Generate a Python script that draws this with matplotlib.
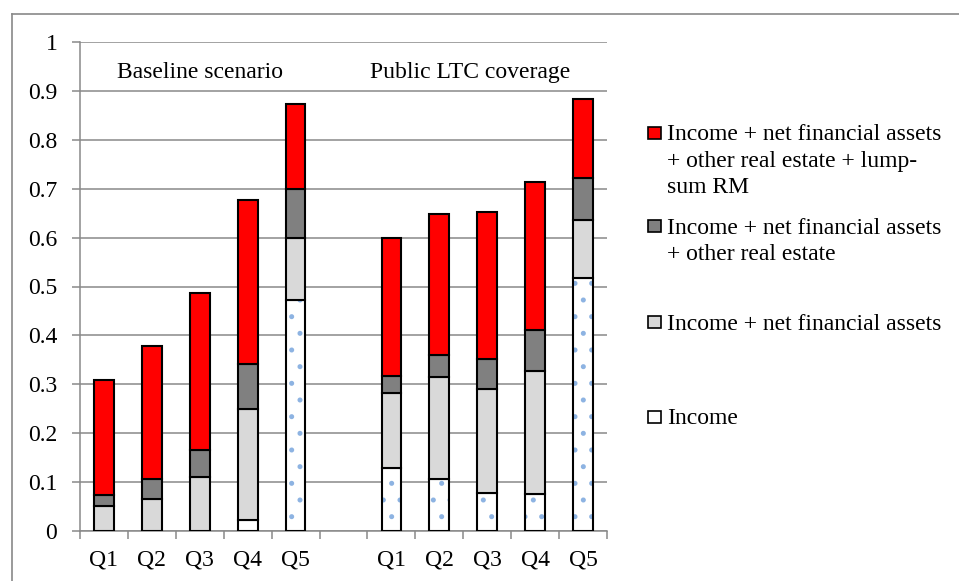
import numpy as np
import matplotlib
matplotlib.use("Agg")
import matplotlib.pyplot as plt
from matplotlib.patches import Rectangle
from matplotlib.lines import Line2D

plt.rcParams['font.family'] = ['Liberation Serif', 'DejaVu Serif']
plt.rcParams['hatch.linewidth'] = 1.2

quintiles = ['Q1', 'Q2', 'Q3', 'Q4', 'Q5']
scenarios = ['Baseline scenario', 'Public LTC coverage']

# cumulative levels (top of each stacked segment)
base_income = [0.0, 0.0, 0.0, 0.022, 0.473]
base_fin = [0.051, 0.065, 0.111, 0.249, 0.600]
base_realest = [0.074, 0.106, 0.166, 0.342, 0.699]
base_rm = [0.308, 0.378, 0.486, 0.677, 0.874]

pub_income = [0.128, 0.106, 0.077, 0.075, 0.518]
pub_fin = [0.283, 0.315, 0.290, 0.327, 0.637]
pub_realest = [0.316, 0.359, 0.352, 0.412, 0.721]
pub_rm = [0.600, 0.648, 0.653, 0.714, 0.884]

series_labels = ['Income + net financial assets\n+ other real estate + lump-\nsum RM',
                 'Income + net financial assets\n+ other real estate',
                 'Income + net financial assets',
                 'Income']
series_colors = ['#ff0000', '#808080', '#d9d9d9', '#ffffff']

W, H = 959, 581
fig = plt.figure(figsize=(W / 100, H / 100), dpi=100)
ax = fig.add_axes([80 / W, 1 - 531 / H, 527 / W, 489 / H])

x_base = np.arange(5)
x_pub = np.arange(6, 11)
xs = np.concatenate([x_base, x_pub])
income = np.array(base_income + pub_income)
fin = np.array(base_fin + pub_fin)
realest = np.array(base_realest + pub_realest)
rm = np.array(base_rm + pub_rm)

bw = 0.41
edge = dict(edgecolor='black', linewidth=1.5)

# income: white with blue dots
ax.bar(xs, income, bw, color='white', edgecolor='#8db3e2', hatch='.', linewidth=0, zorder=2)
ax.bar(xs, income, bw, fill=False, zorder=3, **edge)
ax.bar(xs, fin - income, bw, bottom=income, color=series_colors[2], zorder=3, **edge)
ax.bar(xs, realest - fin, bw, bottom=fin, color=series_colors[1], zorder=3, **edge)
ax.bar(xs, rm - realest, bw, bottom=realest, color=series_colors[0], zorder=3, **edge)

grey = '#898989'
ax.set_xlim(-0.5, 10.5)
ax.set_ylim(0, 1)
ax.set_yticks(np.arange(0, 1.01, 0.1))
ax.set_yticklabels(['0'] + ['%.1f' % v for v in np.arange(0.1, 0.95, 0.1)] + ['1'])
ax.set_xticks(xs)
ax.set_xticklabels(quintiles + quintiles)
ax.set_xticks(np.arange(-0.5, 11, 1), minor=True)
ax.tick_params(axis='x', which='major', length=0, pad=13, labelsize=17)
ax.tick_params(axis='x', which='minor', length=5.5, width=1.1, color=grey)
ax.tick_params(axis='y', length=5.8, width=1.1, color=grey, pad=10.5, labelsize=17)
ax.grid(axis='y', color=grey, linewidth=1.1)
ax.set_axisbelow(True)
for s in ['top', 'right']:
    ax.spines[s].set_visible(False)
for s in ['left', 'bottom']:
    ax.spines[s].set_color(grey)
    ax.spines[s].set_linewidth(1.1)

# scenario titles
ax.text(2.0, 0.926, scenarios[0], ha='center', va='baseline', fontsize=17)
ax.text(7.65, 0.926, scenarios[1], ha='center', va='baseline', fontsize=17)

# legend (first-line baselines in pixels from the top)
baselines = [141, 234, 330, 425]
for lab, col, b in zip(series_labels, series_colors, baselines):
    fig.patches.append(Rectangle((648 / W, 1 - (b - 2) / H), 13 / W, 12 / H,
                                 transform=fig.transFigure, facecolor=col,
                                 edgecolor='black', linewidth=1.2))
    fig.text(667 / W, 1 - (b - 16.5) / H, lab, ha='left', va='top', fontsize=17,
             linespacing=1.32)

# outer frame (top and left edges)
fig.add_artist(Line2D([12 / W, 1], [1 - 14 / H, 1 - 14 / H], color=grey, linewidth=1.2,
                      transform=fig.transFigure))
fig.add_artist(Line2D([12 / W, 12 / W], [0, 1 - 14 / H], color=grey, linewidth=1.2,
                      transform=fig.transFigure))

fig.savefig('out.png', dpi=100)
